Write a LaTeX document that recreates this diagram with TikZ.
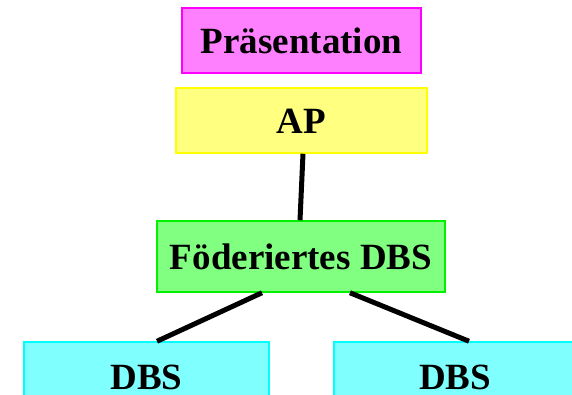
\documentclass[tikz,border=0pt]{standalone}
\usepackage{fontspec}
\setmainfont{Liberation Serif}
\usetikzlibrary{calc}
\definecolor{praesFill}{HTML}{FF80FF}
\definecolor{praesLine}{HTML}{FF00FF}
\definecolor{apFill}{HTML}{FFFF80}
\definecolor{apLine}{HTML}{FFFF00}
\definecolor{fedFill}{HTML}{80FF80}
\definecolor{fedLine}{HTML}{00F000}
\definecolor{dbsFill}{HTML}{80FFFF}
\definecolor{dbsLine}{HTML}{00FFFF}
\tikzset{
  layer/.style={draw=#1Line, fill=#1Fill, line width=1.5pt, rectangle,
    inner sep=0pt, text height=25pt, text depth=0pt,
    font=\fontsize{37}{40}\selectfont\bfseries},
  link/.style={line width=5pt, black}
}
\begin{document}
\begin{tikzpicture}[x=1pt,y=-1pt]
  \useasboundingbox (0,0) rectangle (572,394);
  \clip (0,0) rectangle (572,394);
  % layers
  \node[layer=praes, minimum width=239pt, minimum height=65pt] (praes) at (301.5,40.5) {Präsentation};
  \node[layer=ap, minimum width=251pt, minimum height=65pt] (ap) at (301.5,120.5) {AP};
  \node[layer=fed, minimum width=288pt, minimum height=71pt] (fed) at (301,256.5) {Föderiertes DBS};
  \node[layer=dbs, minimum width=245pt, minimum height=70pt] (dbsL) at (146.5,377) {DBS};
  \node[layer=dbs, minimum width=242pt, minimum height=70pt] (dbsR) at (455,377) {DBS};
  % connections
  \draw[link] ($(ap.south)+(1.5,0)$) -- ($(fed.north)+(-1,0)$);
  \draw[link] ($(fed.south)+(-39,0)$) -- ($(dbsL.north)+(10.5,0)$);
  \draw[link] ($(fed.south)+(49,0)$) -- ($(dbsR.north)+(14,0)$);
\end{tikzpicture}
\end{document}
